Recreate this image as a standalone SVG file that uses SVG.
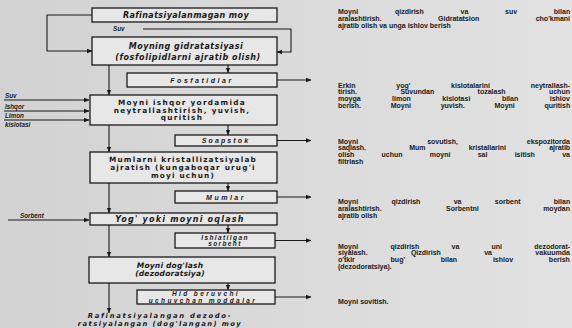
<svg xmlns="http://www.w3.org/2000/svg" width="572" height="328" viewBox="0 0 572 328">
<defs>
<linearGradient id="bg" x1="0" y1="0" x2="1" y2="0"><stop offset="0" stop-color="#d2d2d2"/><stop offset="1" stop-color="#e2e2e2"/></linearGradient>
<marker id="ah" viewBox="0 0 8 8" refX="7.5" refY="4" markerWidth="5" markerHeight="5" orient="auto"><path d="M0,0.8 L8,4 L0,7.2 z" fill="#1a1a1a"/></marker>
</defs>
<style>
.box{fill:#e7e7e7;stroke:#1a1a1a;stroke-width:1.3}
.ln{fill:none;stroke:#1a1a1a;stroke-width:1.1}
.t{font-family:"Liberation Sans",Arial,sans-serif;font-weight:bold;fill:#1a1a1a}
.d{font-family:"DejaVu Sans","Liberation Sans",sans-serif;font-weight:bold;fill:#1a1a1a}
.bt{font-size:8px;letter-spacing:1px;text-anchor:middle}
.mt{font-size:7.3px;letter-spacing:1.3px;text-anchor:middle}
.st{font-size:7px;letter-spacing:2.5px;text-anchor:middle}
.st2{font-size:6.5px;letter-spacing:2px;text-anchor:middle}
.it{font-style:italic}
.lb{font-size:6.3px;font-style:italic}
.p{font-size:7px}
</style>
<rect width="572" height="328" fill="url(#bg)"/>

<g id="connectors">
<path class="ln" d="M92,15 H47 V51 H92" marker-end="url(#ah)"/>
<path class="ln" d="M143,29 H291 V52 H277" marker-end="url(#ah)"/>
<path class="ln" d="M109,65 V95" marker-end="url(#ah)"/>
<path class="ln" d="M109,125 V152" marker-end="url(#ah)"/>
<path class="ln" d="M109,183 V213" marker-end="url(#ah)"/>
<path class="ln" d="M109,225 V257" marker-end="url(#ah)"/>
<path class="ln" d="M109,283 V313" marker-end="url(#ah)"/>
<path class="ln" d="M228,65 V73" marker-end="url(#ah)"/>
<path class="ln" d="M228,125 V135" marker-end="url(#ah)"/>
<path class="ln" d="M228,183 V191" marker-end="url(#ah)"/>
<path class="ln" d="M228,225 V233" marker-end="url(#ah)"/>
<path class="ln" d="M228,283 V290" marker-end="url(#ah)"/>
<path class="ln" d="M277,80 H311" marker-end="url(#ah)"/>
<path class="ln" d="M277,140.5 H311" marker-end="url(#ah)"/>
<path class="ln" d="M277,197 H311" marker-end="url(#ah)"/>
<path class="ln" d="M275,240.5 H311" marker-end="url(#ah)"/>
<path class="ln" d="M275,297 H311" marker-end="url(#ah)"/>
<path class="ln" d="M4,100 H89" marker-end="url(#ah)"/>
<path class="ln" d="M4,111 H89" marker-end="url(#ah)"/>
<path class="ln" d="M4,120 H89" marker-end="url(#ah)"/>
<path class="ln" d="M8,220 H89" marker-end="url(#ah)"/>
<text class="t lb" x="113" y="31">Suv</text>
<text class="t lb" x="5" y="97.5">Suv</text>
<text class="t lb" x="5" y="108.5">Ishqor</text>
<text class="t lb" x="5" y="117.5">Limon</text>
<text class="t lb" x="5" y="126.5">kislotasi</text>
<text class="t lb" x="20" y="217.5">Sorbent</text>
</g>

<g id="n1">
<rect class="box" x="92" y="8" width="185" height="14"/>
<text class="d bt it" x="186" y="18.3" style="letter-spacing:0.4px">Rafinatsiyalanmagan moy</text>
</g>
<g id="n2">
<rect class="box" x="92" y="37" width="185" height="28"/>
<text class="d bt it" x="186" y="49" style="letter-spacing:0.5px">Moyning gidratatsiyasi</text>
<text class="d bt it" x="188" y="59.5" style="letter-spacing:0.6px">(fosfolipidlarni ajratib olish)</text>
</g>
<g id="n2s">
<rect class="box" x="127" y="73" width="150" height="14"/>
<text class="t st it" x="202" y="82.5">Fosfatidlar</text>
</g>
<g id="n3">
<rect class="box" x="90" y="95" width="187" height="30"/>
<text class="d mt" x="182" y="105.3">Moyni ishqor yordamida</text>
<text class="d mt" x="182" y="112.8">neytrallashtirish, yuvish,</text>
<text class="d mt" x="182" y="120.3">quritish</text>
</g>
<g id="n3s">
<rect class="box" x="175" y="135" width="102" height="11"/>
<text class="t st it" x="226" y="143.3" style="letter-spacing:2.1px">Soapstok</text>
</g>
<g id="n4">
<rect class="box" x="90" y="152" width="187" height="31"/>
<text class="d mt" x="183" y="162.3" style="letter-spacing:1.2px">Mumlarni kristallizatsiyalab</text>
<text class="d mt" x="183" y="170.3" style="letter-spacing:1.2px">ajratish (kungaboqar urug'i</text>
<text class="d mt" x="183" y="178" style="letter-spacing:1.2px">moyi uchun)</text>
</g>
<g id="n4s">
<rect class="box" x="175" y="191" width="102" height="12"/>
<text class="t st it" x="226" y="199.7">Mumlar</text>
</g>
<g id="n5">
<rect class="box" x="90" y="213" width="187" height="12"/>
<text class="d bt it" x="180" y="221.7" style="letter-spacing:1.2px">Yog' yoki moyni oqlash</text>
</g>
<g id="n5s">
<rect class="box" x="175" y="233" width="100" height="15"/>
<text class="t st2 it" x="225" y="239.5" style="letter-spacing:1.4px">Ishlatilgan</text>
<text class="t st2 it" x="225" y="246" style="letter-spacing:1.4px">sorbent</text>
</g>
<g id="n6">
<rect class="box" x="89" y="257" width="186" height="26"/>
<text class="d bt it" x="170" y="267.5" style="font-size:7.5px;letter-spacing:0.2px">Moyni dog'lash</text>
<text class="d bt it" x="170" y="276" style="font-size:7.5px;letter-spacing:0.2px">(dezodoratsiya)</text>
</g>
<g id="n6s">
<rect class="box" x="137" y="290" width="138" height="14"/>
<text class="t st2 it" x="206" y="296" style="letter-spacing:2.4px">Hid beruvchi</text>
<text class="t st2 it" x="203" y="302.5" style="letter-spacing:2.4px">uchuvchan moddalar</text>
</g>
<g id="n7">
<text class="d bt it" x="160" y="318" style="font-size:6.8px;letter-spacing:1.7px">Rafinatsiyalangan dezodo-</text>
<text class="d bt it" x="160" y="325.8" style="font-size:6.8px;letter-spacing:1.4px">ratsiyalangan (dog'langan) moy</text>
</g>

<g id="notes">
<text class="t p" x="338" y="14" word-spacing="34.8">Moyni qizdirish va suv bilan</text>
<text class="t p" x="338" y="21" word-spacing="54.5">aralashtirish. Gidratatsion cho'kmani</text>
<text class="t p" x="338" y="28">ajratib olish va unga ishlov berish</text>

<text class="t p" x="338" y="87.5" word-spacing="38.8">Erkin yog' kislotalarini neytrallash-</text>
<text class="t p" x="338" y="94.3" word-spacing="41.4">tirish. Suvundan tozalash uchun</text>
<text class="t p" x="338" y="101.1" word-spacing="29.6">moyga limon kislotasi bilan ishlov</text>
<text class="t p" x="338" y="107.9" word-spacing="27.8">berish. Moyni yuvish. Moyni quritish</text>

<text class="t p" x="338" y="143.5" word-spacing="67">Moyni sovutish, ekspozitorda</text>
<text class="t p" x="338" y="150.3" word-spacing="41.2">saqlash. Mum kristallarini ajratib</text>
<text class="t p" x="338" y="157.1" word-spacing="25.3">olish uchun moyni sal isitish va</text>
<text class="t p" x="338" y="163.9">filtrlash</text>

<text class="t p" x="338" y="204" word-spacing="31.4">Moyni qizdirish va sorbent bilan</text>
<text class="t p" x="338" y="210.8" word-spacing="62.5">aralashtirish. Sorbentni moydan</text>
<text class="t p" x="338" y="217.6">ajratib olish</text>

<text class="t p" x="338" y="248.5" word-spacing="30.3">Moyni qizdirish va uni dezodorat-</text>
<text class="t p" x="338" y="255.3" word-spacing="41.4">siyalash. Qizdirish va vakuumda</text>
<text class="t p" x="338" y="262.1" word-spacing="33.8">o'tkir bug' bilan ishlov berish</text>
<text class="t p" x="338" y="268.9">(dezodoratsiya).</text>

<text class="t p" x="338" y="303.5">Moyni sovitish.</text>
</g>
</svg>
